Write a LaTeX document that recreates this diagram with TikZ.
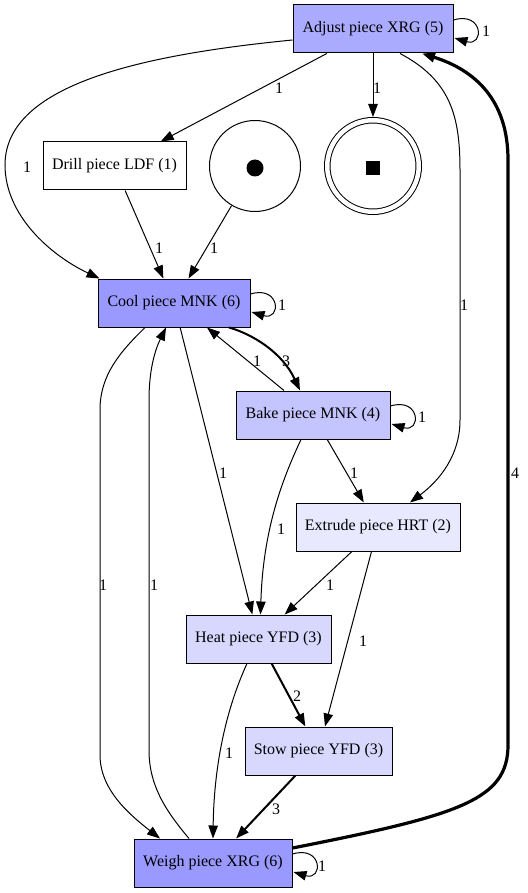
\documentclass[tikz,border=0pt]{standalone}
\usepackage{fontspec}
\setmainfont{Liberation Serif}
\usetikzlibrary{arrows.meta,positioning,calc}
\usepackage{xcolor}
\definecolor{Ink}{HTML}{000000}
\definecolor{TaskA}{HTML}{AAAAFF}
\definecolor{TaskB}{HTML}{9999FF}
\definecolor{TaskC}{HTML}{C4C4FF}
\definecolor{TaskD}{HTML}{D8D8FF}
\definecolor{TaskE}{HTML}{E8E8FF}

\begin{document}
\begin{tikzpicture}[x=1pt,y=-1pt,>={Triangle[length=13pt,width=9.5pt]},
  font=\fontsize{16}{19}\selectfont,
  task/.style={draw=Ink,line width=1pt,minimum height=48,inner sep=0pt},
  place/.style={draw=Ink,circle,line width=1pt,inner sep=0pt},
  arc/.style={->,Ink,line width=1pt},
  heavy/.style={->,Ink,line width=2pt},
  heaviest/.style={->,Ink,line width=3.2pt},
  lbl/.style={inner sep=0pt}]
\useasboundingbox (0,0) rectangle (527,893);
% transitions and places
\node[task,fill=TaskA,minimum width=160] (adjust) at (373,29) {Adjust piece XRG (5)};
\node[task,fill=white,minimum width=143] (drill) at (114.5,166) {Drill piece LDF (1)};
\node[place,minimum size=91] (source) at (255,166) {};
\node[place,double,double distance=4.5pt,minimum size=91.5,outer sep=3.25pt] (sink) at (373,166) {};
\node[circle,fill=Ink,minimum size=17,inner sep=0pt] (token) at ($(source)+(0,2)$) {};
\node[fill=Ink,minimum size=14,inner sep=0pt] (stop) at ($(sink)+(0,2)$) {};
\node[task,fill=TaskB,minimum width=152] (cool) at (174,303) {Cool piece MNK (6)};
\node[task,fill=TaskC,minimum width=154] (bake) at (313,415) {Bake piece MNK (4)};
\node[task,fill=TaskE,minimum width=164] (extrude) at (378,527) {Extrude piece HRT (2)};
\node[task,fill=TaskD,minimum width=145] (heat) at (258.5,639) {Heat piece YFD (3)};
\node[task,fill=TaskD,minimum width=147] (stow) at (318.5,751) {Stow piece YFD (3)};
\node[task,fill=TaskB,minimum width=158] (weigh) at (213,863) {Weigh piece XRG (6)};
% self loops
\draw[arc] ($(adjust.east)+(0,-9)$) .. controls +(30,-9) and +(30,9) .. ($(adjust.east)+(1,9)$);
\draw[arc] ($(cool.east)+(0,-9)$) .. controls +(30,-9) and +(30,9) .. ($(cool.east)+(1,9)$);
\draw[arc] ($(bake.east)+(0,-9)$) .. controls +(30,-9) and +(30,9) .. ($(bake.east)+(1,9)$);
\draw[arc] ($(weigh.east)+(0,-9)$) .. controls +(30,-9) and +(30,9) .. ($(weigh.east)+(1,9)$);
% straight arcs
\draw[arc] (adjust) -- (drill);
\draw[arc] (adjust) -- (sink);
\draw[arc] (drill) -- (cool);
\draw[arc] (source) -- (cool);
\draw[arc] (cool) -- (heat);
\draw[arc] (bake) -- (extrude);
\draw[arc] (extrude) -- (heat);
\draw[arc] (extrude) -- (stow);
\draw[heavy] (heat) -- (stow);
\draw[heavy] (stow) -- (weigh);
\draw[arc] ($(bake.north)+(-29,0)$) -- ($(cool.south)+(33,0)$);
% curved arcs
\draw[heavy] ($(cool.south)+(55,0)$) .. controls (252,334) and (282,352) .. ($(bake.north)+(-13,0)$);
\draw[arc] ($(adjust.west)+(0,11)$) .. controls (140,55) and (5,85) .. (5,165)
  .. controls (5,215) and (50,255) .. ($(cool.north west)+(2,0)$);
\draw[arc] ($(adjust.south)+(27,0)$) .. controls (450,80) and (460,115) .. (460,170)
  -- (460,420) .. controls (460,455) and (440,480) .. ($(extrude.north)+(32,0)$);
\draw[arc] ($(cool.south)+(-29,0)$) .. controls (120,352) and (100,375) .. (100,410)
  -- (100,755) .. controls (100,790) and (130,815) .. ($(weigh.north)+(-53,0)$);
\draw[arc] ($(weigh.north)+(-24,0)$) .. controls (165,810) and (149,785) .. (149,750)
  -- (149,400) .. controls (149,370) and (155,350) .. ($(cool.south)+(-8,0)$);
\draw[arc] ($(bake.south)+(-12,0)$) .. controls (282,480) and (263,530) .. ($(heat.north)+(2,0)$);
\draw[arc] ($(heat.south)+(-11.5,0)$) .. controls (228,705) and (214,760) .. (weigh.north);
\draw[heaviest] ($(weigh.east)+(0,-15)$) .. controls (460,815) and (508,800) .. (508,745)
  -- (508,160) .. controls (508,100) and (475,70) .. ($(adjust.south)+(49,0)$);
% weights
\node[lbl] (w1) at (486,31) {1};
\node[lbl] (w2) at (27,167) {1};
\node[lbl] (w3) at (279,88) {1};
\node[lbl] (w4) at (377,88) {1};
\node[lbl] (w5) at (464,305) {1};
\node[lbl] (w6) at (159,248) {1};
\node[lbl] (w7) at (214,248) {1};
\node[lbl] (w8) at (282,305) {1};
\node[lbl] (w9) at (286,361) {3};
\node[lbl] (w10) at (257,361) {1};
\node[lbl] (w11) at (223,473) {1};
\node[lbl] (w12) at (103,585) {1};
\node[lbl] (w13) at (154,585) {1};
\node[lbl] (w14) at (422,417) {1};
\node[lbl] (w15) at (354,473) {1};
\node[lbl] (w16) at (281,529) {1};
\node[lbl] (w17) at (330,585) {1};
\node[lbl] (w18) at (363,641) {1};
\node[lbl] (w19) at (229,753) {1};
\node[lbl] (w20) at (297,696) {2};
\node[lbl] (w21) at (276,809) {3};
\node[lbl] (w22) at (515,473) {4};
\node[lbl] (w23) at (322,866) {1};
\end{tikzpicture}
\end{document}
